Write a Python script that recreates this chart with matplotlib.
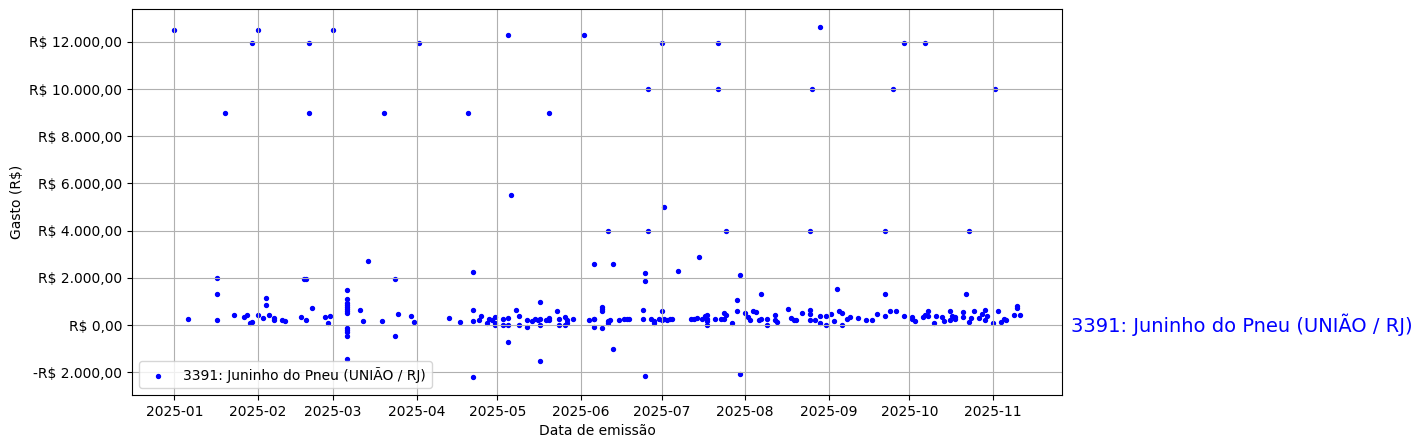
import matplotlib
matplotlib.use("Agg")
import matplotlib.pyplot as plt
import matplotlib.dates as mdates
import matplotlib.ticker as mticker
import matplotlib.transforms as mtransforms
import pandas as pd

serie_nome = "3391: Juninho do Pneu (UNIÃO / RJ)"

datas = [
    # Janeiro
    "2025-01-01", "2025-01-06", "2025-01-17", "2025-01-17", "2025-01-17", "2025-01-20",
    "2025-01-23", "2025-01-27", "2025-01-28", "2025-01-29", "2025-01-30", "2025-01-30",
    # Fevereiro
    "2025-02-01", "2025-02-01", "2025-02-03", "2025-02-04", "2025-02-04", "2025-02-05",
    "2025-02-07", "2025-02-07", "2025-02-10", "2025-02-11", "2025-02-17", "2025-02-18",
    "2025-02-19", "2025-02-19", "2025-02-20", "2025-02-20", "2025-02-21", "2025-02-26",
    "2025-02-27", "2025-02-28",
    # Março
    "2025-03-01",
    "2025-03-06", "2025-03-06", "2025-03-06", "2025-03-06", "2025-03-06", "2025-03-06",
    "2025-03-06", "2025-03-06", "2025-03-06", "2025-03-06", "2025-03-06", "2025-03-06",
    "2025-03-06",
    "2025-03-11", "2025-03-12", "2025-03-14", "2025-03-19", "2025-03-20", "2025-03-24",
    "2025-03-24", "2025-03-25", "2025-03-30", "2025-03-31",
    # Abril
    "2025-04-02", "2025-04-13", "2025-04-17", "2025-04-20", "2025-04-22", "2025-04-22",
    "2025-04-22", "2025-04-22", "2025-04-24", "2025-04-25", "2025-04-27", "2025-04-28",
    "2025-04-29", "2025-04-30", "2025-04-30", "2025-04-30",
    # Maio
    "2025-05-03", "2025-05-03", "2025-05-05", "2025-05-05", "2025-05-05", "2025-05-05",
    "2025-05-06", "2025-05-08", "2025-05-09", "2025-05-09", "2025-05-12", "2025-05-12",
    "2025-05-14", "2025-05-15", "2025-05-16", "2025-05-17", "2025-05-17", "2025-05-17",
    "2025-05-17", "2025-05-19", "2025-05-20", "2025-05-20", "2025-05-20", "2025-05-23",
    "2025-05-24", "2025-05-24", "2025-05-26", "2025-05-26", "2025-05-27", "2025-05-27",
    "2025-05-29",
    # Junho
    "2025-06-02", "2025-06-04", "2025-06-06", "2025-06-06", "2025-06-06", "2025-06-06",
    "2025-06-09", "2025-06-09", "2025-06-09", "2025-06-09", "2025-06-11", "2025-06-11",
    "2025-06-11", "2025-06-12", "2025-06-13", "2025-06-13", "2025-06-15", "2025-06-17",
    "2025-06-18", "2025-06-19", "2025-06-24", "2025-06-24", "2025-06-25", "2025-06-25",
    "2025-06-25", "2025-06-26", "2025-06-26", "2025-06-27", "2025-06-28", "2025-06-28",
    "2025-06-30",
    # Julho
    "2025-07-01", "2025-07-01", "2025-07-01", "2025-07-02", "2025-07-02", "2025-07-03",
    "2025-07-04", "2025-07-05", "2025-07-07", "2025-07-12", "2025-07-13", "2025-07-14",
    "2025-07-15", "2025-07-16", "2025-07-17", "2025-07-18", "2025-07-18", "2025-07-18",
    "2025-07-18", "2025-07-21", "2025-07-22", "2025-07-22", "2025-07-23", "2025-07-24",
    "2025-07-24", "2025-07-25", "2025-07-25", "2025-07-27", "2025-07-29", "2025-07-29",
    "2025-07-30", "2025-07-30",
    # Agosto
    "2025-08-01", "2025-08-02", "2025-08-03", "2025-08-04", "2025-08-05", "2025-08-06",
    "2025-08-07", "2025-08-07", "2025-08-09", "2025-08-09", "2025-08-12", "2025-08-12",
    "2025-08-13", "2025-08-17", "2025-08-18", "2025-08-19", "2025-08-20", "2025-08-22",
    "2025-08-25", "2025-08-25", "2025-08-25", "2025-08-25", "2025-08-26", "2025-08-27",
    "2025-08-29", "2025-08-29", "2025-08-29", "2025-08-31", "2025-08-31",
    # Setembro
    "2025-09-02", "2025-09-03", "2025-09-04", "2025-09-05", "2025-09-06", "2025-09-06",
    "2025-09-08", "2025-09-09", "2025-09-12", "2025-09-15", "2025-09-17", "2025-09-19",
    "2025-09-22", "2025-09-22", "2025-09-22", "2025-09-24", "2025-09-25", "2025-09-26",
    "2025-09-29", "2025-09-29",
    # Outubro
    "2025-10-02", "2025-10-02", "2025-10-03", "2025-10-06", "2025-10-07", "2025-10-07",
    "2025-10-08", "2025-10-08", "2025-10-10", "2025-10-11", "2025-10-13", "2025-10-14",
    "2025-10-16", "2025-10-16", "2025-10-17", "2025-10-18", "2025-10-18", "2025-10-21",
    "2025-10-21", "2025-10-22", "2025-10-23", "2025-10-23", "2025-10-24", "2025-10-25",
    "2025-10-27", "2025-10-28", "2025-10-29", "2025-10-29", "2025-10-30",
    # Novembro
    "2025-11-01", "2025-11-02", "2025-11-03", "2025-11-04", "2025-11-05", "2025-11-06",
    "2025-11-09", "2025-11-10", "2025-11-10", "2025-11-11",
]

gastos = [
    # Janeiro
    12500, 240, 2000, 1300, 200, 9000,
    410, 340, 410, 85, 11950, 110,
    # Fevereiro
    12500, 410, 280, 1130, 835, 410,
    280, 200, 200, 155, 330, 1940,
    1940, 200, 11950, 9000, 710, 330,
    70, 380,
    # Março
    12500,
    1470, 1090, 920, 835, 750, 665,
    580, 495, -140, -225, -310, -465,
    -1455,
    620, 155, 2700, 155, 9000, 1940,
    -480, 450, 370, 115,
    # Abril
    11950, 280, 115, 9000, 2230, 620,
    155, -2220, 200, 370, 70, 240,
    200, 330, 70, 0,
    # Maio
    240, 0, 12300, 280, 0, -735,
    5500, 620, 370, 0, 200, -100,
    155, 240, 200, 960, -1540, 240,
    0, 200, 280, 200, 9000, 580,
    240, 0, 330, 0, 200, 70,
    240,
    # Junho
    12300, 200, 240, 240, 2570, -100,
    750, 665, 580, -140, 155, 70,
    4000, 200, 2570, -1030, 200, 240,
    240, 240, 620, 240, 2190, 1850,
    -2175, 10000, 4000, 240, 155, 70,
    240,
    # Julho
    11950, 580, 200, 240, 4990, 200,
    240, 240, 2280, 240, 240, 280,
    2870, 240, 370, 410, 240, 155,
    0, 240, 11950, 10000, 240, 495,
    240, 410, 4000, 70, 1045, 580,
    2110, -2090,
    # Agosto
    495, 330, 200, 580, 540, 200,
    240, 1300, 240, 0, 410, 200,
    115, 665, 280, 200, 200, 495,
    620, 450, 200, 4000, 10000, 200,
    370, 70, 12650, 370, 0,
    # Setembro
    450, 155, 1510, 580, 495, 0,
    240, 330, 280, 200, 200, 450,
    1300, 370, 4000, 580, 10000, 580,
    370, 11950,
    # Outubro
    330, 240, 155, 330, 410, 11950,
    580, 370, 70, 370, 330, 155,
    580, 200, 370, 240, 330, 540,
    330, 1300, 115, 4000, 280, 580,
    280, 450, 620, 200, 370,
    # Novembro
    70, 10000, 580, 115, 240, 200,
    410, 710, 790, 410,
]

x = pd.to_datetime(datas)

fig = plt.figure(figsize=(14.22, 4.48), dpi=100)
ax = fig.add_axes([132 / 1422, 53 / 448, 930 / 1422, 386 / 448])

ax.scatter(x, gastos, s=8, color="blue", label=serie_nome)

def fmt_brl(v, pos=None):
    s = f"{abs(v):,.2f}".replace(",", "X").replace(".", ",").replace("X", ".")
    return ("-R$ " if v < 0 else "R$ ") + s

ax.yaxis.set_major_locator(mticker.MultipleLocator(2000))
ax.yaxis.set_major_formatter(mticker.FuncFormatter(fmt_brl))
ax.xaxis.set_major_locator(mdates.MonthLocator())
ax.xaxis.set_major_formatter(mdates.DateFormatter("%Y-%m"))

ax.grid(True)
ax.set_xlabel("Data de emissão")
ax.set_ylabel("Gasto (R$)")
ax.legend(loc="lower left")

trans = mtransforms.blended_transform_factory(ax.transAxes, ax.transData)
ax.text(1.01, 0, serie_nome, transform=trans, color="blue", fontsize=14,
        va="center", ha="left")

fig.savefig("out.png", dpi=100)
